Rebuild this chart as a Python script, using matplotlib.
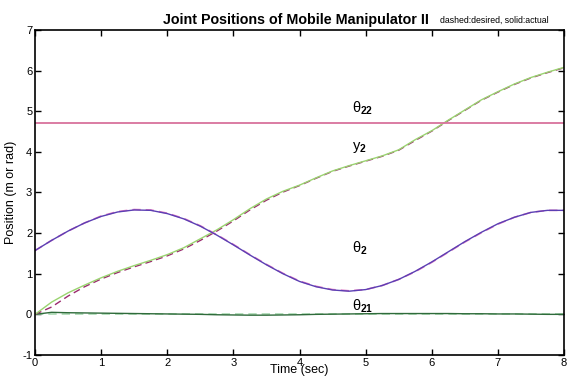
import matplotlib
matplotlib.use('Agg')
import matplotlib.pyplot as plt

plt.rcParams['font.family'] = ['Liberation Sans', 'DejaVu Sans']
plt.rcParams['axes.unicode_minus'] = False
plt.rcParams['mathtext.fontset'] = 'custom'
plt.rcParams['mathtext.rm'] = 'Liberation Sans'
plt.rcParams['mathtext.it'] = 'Liberation Sans'
plt.rcParams['mathtext.bf'] = 'Liberation Sans:bold'

# time samples (sec)
t = [0.0, 0.25, 0.5, 0.75, 1.0, 1.25, 1.5, 1.75, 2.0, 2.25, 2.5, 2.75, 3.0,
     3.25, 3.5, 3.75, 4.0, 4.25, 4.5, 4.75, 5.0, 5.25, 5.5, 5.75, 6.0,
     6.25, 6.5, 6.75, 7.0, 7.25, 7.5, 7.75, 8.0]

# theta_2 (rad)
theta2_act = [1.57, 1.82, 2.05, 2.25, 2.41, 2.52, 2.57, 2.56, 2.48, 2.35, 2.17,
              1.95, 1.71, 1.46, 1.22, 1.00, 0.81, 0.68, 0.60, 0.57, 0.61,
              0.71, 0.86, 1.06, 1.29, 1.54, 1.79, 2.02, 2.23, 2.39, 2.51,
              2.56, 2.56]
theta2_des = [1.57, 1.82, 2.05, 2.25, 2.42, 2.53, 2.58, 2.57, 2.49, 2.36, 2.18,
              1.96, 1.72, 1.47, 1.23, 1.01, 0.82, 0.69, 0.61, 0.58, 0.61,
              0.71, 0.86, 1.05, 1.28, 1.53, 1.78, 2.01, 2.22, 2.39, 2.51,
              2.56, 2.56]

# y_2 (m)
y2_act = [0.0, 0.30, 0.53, 0.72, 0.90, 1.06, 1.20, 1.33, 1.47, 1.64, 1.86,
          2.08, 2.33, 2.60, 2.84, 3.03, 3.18, 3.36, 3.53, 3.66, 3.78, 3.90,
          4.05, 4.30, 4.52, 4.78, 5.03, 5.28, 5.48, 5.67, 5.83, 5.96, 6.08]
y2_des = [0.0, 0.18, 0.45, 0.68, 0.87, 1.03, 1.17, 1.30, 1.44, 1.61, 1.82,
          2.05, 2.30, 2.57, 2.81, 3.01, 3.17, 3.35, 3.52, 3.65, 3.77, 3.89,
          4.04, 4.28, 4.51, 4.77, 5.02, 5.27, 5.47, 5.66, 5.82, 5.95, 6.07]

# theta_21 (rad)
theta21_act = [0.0, 0.05, 0.04, 0.035, 0.03, 0.025, 0.02, 0.015, 0.01, 0.005,
               0.0, -0.01, -0.015, -0.02, -0.02, -0.015, -0.01, 0.0, 0.005,
               0.01, 0.015, 0.02, 0.02, 0.02, 0.02, 0.02, 0.015, 0.015, 0.01,
               0.01, 0.005, 0.0, 0.0]
theta21_des = [0.0] * len(t)

# theta_22 (rad), constant
theta22_val = 4.71

fig = plt.figure(figsize=(5.71, 3.76), dpi=100)
ax = fig.add_axes([0.0613, 0.0559, 0.9265, 0.8644])

ax.plot(t, theta21_des, '--', color='#a9d9b2', lw=1.2, dashes=(5, 3))
ax.plot(t, theta21_act, '-', color='#2f6b3b', lw=1.0)
ax.plot(t, y2_des, '--', color='#9b2a6e', lw=1.0, dashes=(5, 3))
ax.plot(t, y2_act, '-', color='#9ad470', lw=1.0)
ax.plot(t, theta2_des, '--', color='#e07ac4', lw=1.2, dashes=(5, 3))
ax.plot(t, theta2_act, '-', color='#5b3fb3', lw=1.0)
ax.axhline(theta22_val, color='#d8729c', lw=1.3)

ax.text(4.8, 4.96, r'$\theta_{\mathbf{22}}$', fontsize=10.5, va='baseline')
ax.text(4.8, 4.05, r'$\mathrm{y}_{\mathbf{2}}$', fontsize=10.5, va='baseline')
ax.text(4.8, 1.53, r'$\theta_{\mathbf{2}}$', fontsize=10.5, va='baseline')
ax.text(4.8, 0.10, r'$\theta_{\mathbf{21}}$', fontsize=10.5, va='baseline')

ax.set_xlim(0, 8)
ax.set_ylim(-1, 7)
ax.set_xticks(range(0, 9))
ax.set_yticks(range(-1, 8))
ax.tick_params(direction='in', top=True, right=True, length=4, width=1,
               labelsize=8, pad=2)
for s in ax.spines.values():
    s.set_linewidth(1.2)

ax.set_xlabel('Time (sec)', fontsize=9, labelpad=-3)
ax.set_ylabel('Position (m or rad)', fontsize=9, labelpad=4)
fig.text(0.518, 0.935, 'Joint Positions of Mobile Manipulator II',
         fontsize=10.3, fontweight='bold', ha='center', va='baseline')
fig.text(0.77, 0.938, 'dashed:desired, solid:actual', fontsize=6.3,
         ha='left', va='baseline')

fig.savefig('out.png', dpi=100)
